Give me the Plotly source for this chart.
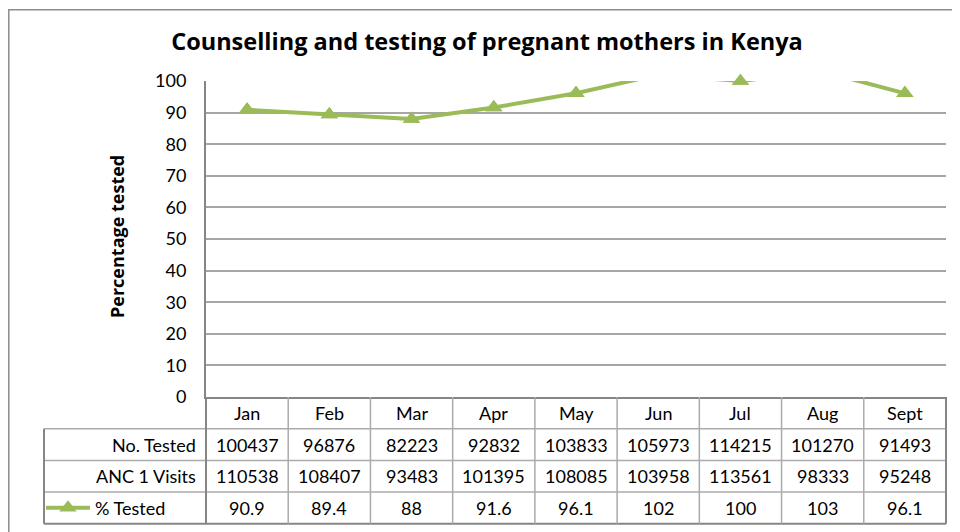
import plotly.graph_objects as go

months = ["Jan", "Feb", "Mar", "Apr", "May", "Jun", "Jul", "Aug", "Sept"]
no_tested = [100437, 96876, 82223, 92832, 103833, 105973, 114215, 101270, 91493]
anc1_visits = [110538, 108407, 93483, 101395, 108085, 103958, 113561, 98333, 95248]
pct_tested = [90.9, 89.4, 88, 91.6, 96.1, 102, 100, 103, 96.1]

GREEN = "#9BBB59"
FONT = "Lato"
# page body adds an 8px offset, so the figure is 8px smaller each way
OFF = 8
W, H = 952, 524
L, R, T, B = 198, 14, 73, 135
pw, ph = W - L - R, H - T - B


# screen pixel -> paper helpers for the table drawn under the plot
def px_x(x):
    return (x - OFF - L) / pw


def px_y(y):
    return (H - B - (y - OFF)) / ph


rowh = 31.7 / ph
n = len(months)

fig = go.Figure()

# line (clipped at the plot top, like the original)
fig.add_trace(go.Scatter(
    x=months, y=pct_tested, name="% Tested", mode="lines+markers",
    line=dict(color=GREEN, width=4),
    marker=dict(symbol="triangle-up", size=15, color=GREEN),
    cliponaxis=True,
))
# markers that sit inside the axis range, drawn unclipped
inside = [(m, v) for m, v in zip(months, pct_tested) if v <= 100]
fig.add_trace(go.Scatter(
    x=[m for m, v in inside], y=[v for m, v in inside], mode="markers",
    marker=dict(symbol="triangle-up", size=15, color=GREEN),
    cliponaxis=False, showlegend=False, hoverinfo="skip",
))

shapes = []
dark = dict(color="#868686", width=2)
light = dict(color="#ababab", width=1.5)
bottom = -4 * rowh
# horizontal row lines
for k in range(1, 4):
    shapes.append(dict(type="line", xref="paper", yref="paper",
                       x0=px_x(44), x1=1, y0=-k * rowh, y1=-k * rowh, line=light))
shapes.append(dict(type="line", xref="paper", yref="paper",
                   x0=px_x(44), x1=1, y0=bottom, y1=bottom, line=dark))
# vertical column lines
for k in range(1, n):
    shapes.append(dict(type="line", xref="paper", yref="paper",
                       x0=k / n, x1=k / n, y0=0, y1=bottom, line=light))
shapes.append(dict(type="line", xref="paper", yref="paper",
                   x0=0, x1=0, y0=0, y1=bottom, line=dark))
shapes.append(dict(type="line", xref="paper", yref="paper",
                   x0=1, x1=1, y0=0, y1=bottom, line=dark))
shapes.append(dict(type="line", xref="paper", yref="paper",
                   x0=px_x(44), x1=px_x(44), y0=-rowh, y1=bottom, line=dark))
# chart frame
shapes.append(dict(type="rect", xref="paper", yref="paper",
                   x0=px_x(8.8), x1=px_x(990), y0=px_y(9.8), y1=px_y(560),
                   line=dict(color="#8c8c8c", width=1.5)))

annotations = []
tf = dict(family=FONT, size=18, color="#000000")
rows = [("No. Tested", no_tested), ("ANC 1 Visits", anc1_visits)]
for i, m in enumerate(months):
    annotations.append(dict(x=m, xref="x", y=-0.5 * rowh, yref="paper",
                            text=m, showarrow=False, font=tf, yanchor="middle"))
    for r, (lab, vals) in enumerate(rows):
        annotations.append(dict(x=m, xref="x", y=-(r + 1.5) * rowh, yref="paper",
                                text=str(vals[i]), showarrow=False, font=tf, yanchor="middle"))
    annotations.append(dict(x=m, xref="x", y=-3.5 * rowh, yref="paper",
                            text=f"{pct_tested[i]:g}", showarrow=False, font=tf, yanchor="middle"))
for r, (lab, vals) in enumerate(rows):
    annotations.append(dict(x=px_x(198), xref="paper", y=-(r + 1.5) * rowh, yref="paper",
                            text=lab, showarrow=False, font=tf, xanchor="right", yanchor="middle"))

annotations.append(dict(x=px_x(117), xref="paper", y=px_y(237), yref="paper",
                        text="<b>Percentage tested</b>", textangle=-90, showarrow=False,
                        xanchor="center", yanchor="middle",
                        font=dict(family="Open Sans", size=18, color="#000000")))

fig.update_layout(
    width=W, height=H,
    margin=dict(l=L, r=R, t=T, b=B, autoexpand=False),
    paper_bgcolor="white", plot_bgcolor="white",
    font=dict(family=FONT, size=18, color="#000000"),
    title=dict(text="<b>Counselling and testing of pregnant mothers in Kenya</b>",
               x=(487 - OFF) / W, xref="container", xanchor="center",
               y=1 - (42 - OFF) / H, yref="container", yanchor="middle",
               font=dict(family="Open Sans", size=23.5, color="#000000")),
    showlegend=True,
    legend=dict(x=px_x(41), y=-3.5 * rowh, xanchor="left", yanchor="middle",
                bgcolor="rgba(0,0,0,0)", font=tf, itemwidth=44),
    shapes=shapes, annotations=annotations,
)
fig.update_xaxes(type="category", range=[-0.5, n - 0.5], showticklabels=False,
                 showgrid=False, showline=True, linecolor="#868686", linewidth=2,
                 zeroline=False, fixedrange=True)
fig.update_yaxes(range=[0, 100], dtick=10, showgrid=True, gridcolor="#a6a6a6", gridwidth=1.5,
                 showline=True, linecolor="#868686", linewidth=2, zeroline=False,
                 ticks="", ticklabelstandoff=14, tickfont=tf, fixedrange=True)

fig.write_html("out.html")
